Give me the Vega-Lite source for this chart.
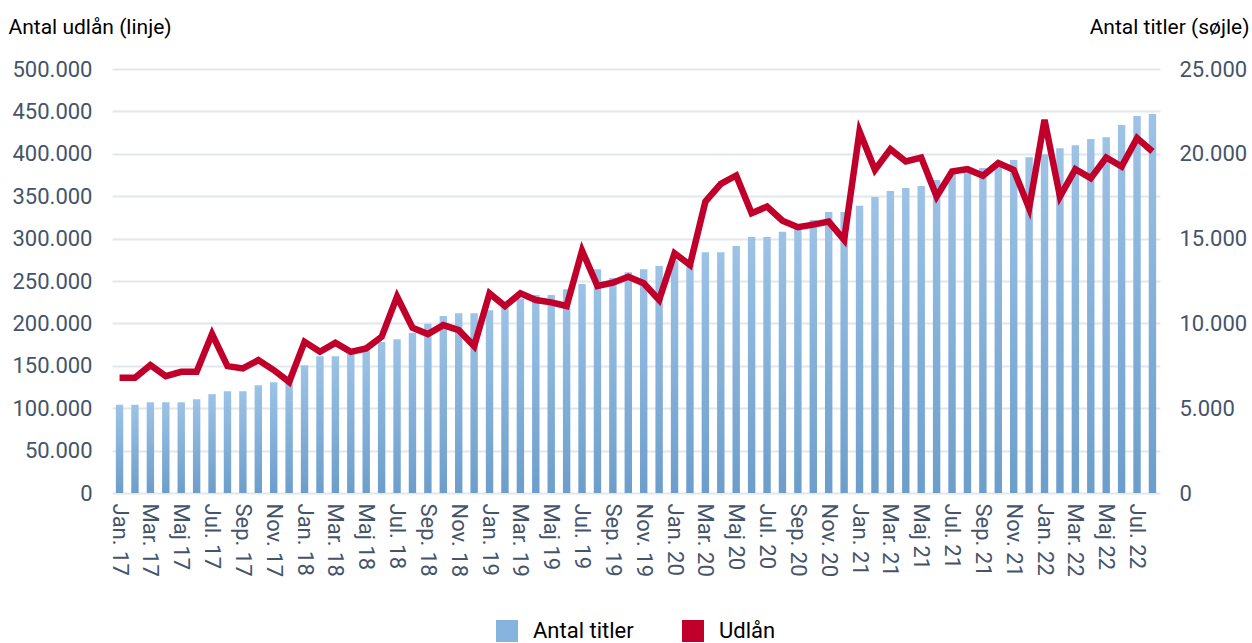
{
  "$schema": "https://vega.github.io/schema/vega-lite/v6.json",
  "width": 1048,
  "height": 424,
  "autosize": "none",
  "padding": {"left": 112, "top": 69, "right": 92, "bottom": 150},
  "background": "white",
  "config": {
    "locale": {"number": {"decimal": ",", "thousands": ".", "grouping": [3], "currency": ["", " kr."]}},
    "font": "Roboto",
    "view": {"stroke": null}
  },
  "data": {"values": [
    {"maaned": "Jan. 17", "titler": 5200, "udlaan": 136000},
    {"maaned": "Feb. 17", "titler": 5200, "udlaan": 136000},
    {"maaned": "Mar. 17", "titler": 5350, "udlaan": 150800},
    {"maaned": "Apr. 17", "titler": 5350, "udlaan": 137800},
    {"maaned": "Maj 17", "titler": 5350, "udlaan": 142900},
    {"maaned": "Jun. 17", "titler": 5530, "udlaan": 142900},
    {"maaned": "Jul. 17", "titler": 5830, "udlaan": 187400},
    {"maaned": "Aug. 17", "titler": 6000, "udlaan": 149600},
    {"maaned": "Sep. 17", "titler": 6000, "udlaan": 146900},
    {"maaned": "Okt. 17", "titler": 6360, "udlaan": 156700},
    {"maaned": "Nov. 17", "titler": 6530, "udlaan": 145000},
    {"maaned": "Dec. 17", "titler": 6700, "udlaan": 131000},
    {"maaned": "Jan. 18", "titler": 7530, "udlaan": 178300},
    {"maaned": "Feb. 18", "titler": 8070, "udlaan": 166500},
    {"maaned": "Mar. 18", "titler": 8070, "udlaan": 177100},
    {"maaned": "Apr. 18", "titler": 8200, "udlaan": 166500},
    {"maaned": "Maj 18", "titler": 8400, "udlaan": 170500},
    {"maaned": "Jun. 18", "titler": 8900, "udlaan": 184200},
    {"maaned": "Jul. 18", "titler": 9070, "udlaan": 231500},
    {"maaned": "Aug. 18", "titler": 9450, "udlaan": 194900},
    {"maaned": "Sep. 18", "titler": 9980, "udlaan": 187400},
    {"maaned": "Okt. 18", "titler": 10430, "udlaan": 198000},
    {"maaned": "Nov. 18", "titler": 10600, "udlaan": 192000},
    {"maaned": "Dec. 18", "titler": 10600, "udlaan": 173200},
    {"maaned": "Jan. 19", "titler": 10780, "udlaan": 235400},
    {"maaned": "Feb. 19", "titler": 10980, "udlaan": 220500},
    {"maaned": "Mar. 19", "titler": 11470, "udlaan": 235400},
    {"maaned": "Apr. 19", "titler": 11670, "udlaan": 227600},
    {"maaned": "Maj 19", "titler": 11670, "udlaan": 224800},
    {"maaned": "Jun. 19", "titler": 12020, "udlaan": 220500},
    {"maaned": "Jul. 19", "titler": 12320, "udlaan": 285800},
    {"maaned": "Aug. 19", "titler": 13200, "udlaan": 244100},
    {"maaned": "Sep. 19", "titler": 12670, "udlaan": 248000},
    {"maaned": "Okt. 19", "titler": 13020, "udlaan": 255100},
    {"maaned": "Nov. 19", "titler": 13200, "udlaan": 247300},
    {"maaned": "Dec. 19", "titler": 13380, "udlaan": 227600},
    {"maaned": "Jan. 20", "titler": 13730, "udlaan": 282700},
    {"maaned": "Feb. 20", "titler": 13500, "udlaan": 268900},
    {"maaned": "Mar. 20", "titler": 14200, "udlaan": 343600},
    {"maaned": "Apr. 20", "titler": 14200, "udlaan": 364500},
    {"maaned": "Maj 20", "titler": 14560, "udlaan": 374400},
    {"maaned": "Jun. 20", "titler": 15100, "udlaan": 329900},
    {"maaned": "Jul. 20", "titler": 15100, "udlaan": 337800},
    {"maaned": "Aug. 20", "titler": 15400, "udlaan": 321200},
    {"maaned": "Sep. 20", "titler": 15600, "udlaan": 313400},
    {"maaned": "Okt. 20", "titler": 16100, "udlaan": 316500},
    {"maaned": "Nov. 20", "titler": 16570, "udlaan": 320000},
    {"maaned": "Dec. 20", "titler": 16570, "udlaan": 298400},
    {"maaned": "Jan. 21", "titler": 16930, "udlaan": 426300},
    {"maaned": "Feb. 21", "titler": 17460, "udlaan": 381100},
    {"maaned": "Mar. 21", "titler": 17800, "udlaan": 405500},
    {"maaned": "Apr. 21", "titler": 17980, "udlaan": 390900},
    {"maaned": "Maj 21", "titler": 18100, "udlaan": 395600},
    {"maaned": "Jun. 21", "titler": 18450, "udlaan": 349600},
    {"maaned": "Jul. 21", "titler": 18950, "udlaan": 379100},
    {"maaned": "Aug. 21", "titler": 19000, "udlaan": 381900},
    {"maaned": "Sep. 21", "titler": 19170, "udlaan": 374000},
    {"maaned": "Okt. 21", "titler": 19280, "udlaan": 389000},
    {"maaned": "Nov. 21", "titler": 19630, "udlaan": 381100},
    {"maaned": "Dec. 21", "titler": 19800, "udlaan": 335800},
    {"maaned": "Jan. 22", "titler": 19980, "udlaan": 440100},
    {"maaned": "Feb. 22", "titler": 20330, "udlaan": 349600},
    {"maaned": "Mar. 22", "titler": 20500, "udlaan": 381900},
    {"maaned": "Apr. 22", "titler": 20870, "udlaan": 371300},
    {"maaned": "Maj 22", "titler": 20980, "udlaan": 395600},
    {"maaned": "Jun. 22", "titler": 21700, "udlaan": 385000},
    {"maaned": "Jul. 22", "titler": 22230, "udlaan": 418500},
    {"maaned": "Aug. 22", "titler": 22340, "udlaan": 402700}
  ]},
  "encoding": {
    "x": {
      "field": "maaned",
      "type": "ordinal",
      "sort": null,
      "scale": {"paddingInner": 0.52, "paddingOuter": 0.25},
      "axis": {
        "title": null,
        "labelAngle": 90,
        "labelAlign": "left",
        "labelBaseline": "middle",
        "labelPadding": 10,
        "labelFontSize": 22,
        "labelColor": "#44546a",
        "labelOverlap": false,
        "ticks": false,
        "domain": false,
        "grid": false,
        "labelExpr": "indexof(['Jan','Mar','Maj','Jul','Sep','Nov'], slice(datum.value, 0, 3)) >= 0 ? datum.value : ''"
      }
    }
  },
  "layer": [
    {
      "mark": {
        "type": "bar",
        "fill": {
          "gradient": "linear",
          "x1": 0, "y1": 0, "x2": 0, "y2": 1,
          "stops": [
            {"offset": 0, "color": "#9dc3e6"},
            {"offset": 1, "color": "#6c9ecb"}
          ]
        }
      },
      "encoding": {
        "y": {
          "field": "titler",
          "type": "quantitative",
          "scale": {"domain": [0, 25000], "nice": false},
          "axis": {
            "orient": "right",
            "values": [0, 5000, 10000, 15000, 20000, 25000],
            "format": ",d",
            "grid": false,
            "ticks": false,
            "domain": false,
            "labelFontSize": 22,
            "labelColor": "#44546a",
            "labelPadding": 19,
            "labelAlign": "left",
            "title": "Antal titler (søjle)",
            "titleAngle": 0,
            "titleX": 89,
            "titleY": -42,
            "titleAlign": "right",
            "titleBaseline": "middle",
            "titleFontSize": 21,
            "titleFontWeight": "normal",
            "titleColor": "#000000"
          }
        }
      }
    },
    {
      "mark": {"type": "line", "strokeWidth": 6.5, "strokeJoin": "miter", "strokeCap": "butt"},
      "encoding": {
        "y": {
          "field": "udlaan",
          "type": "quantitative",
          "scale": {"domain": [0, 500000], "nice": false},
          "axis": {
            "orient": "left",
            "values": [0, 50000, 100000, 150000, 200000, 250000, 300000, 350000, 400000, 450000, 500000],
            "format": ",d",
            "grid": true,
            "gridColor": "#e2e6ed",
            "gridWidth": 2,
            "ticks": false,
            "domain": false,
            "labelFontSize": 22,
            "labelColor": "#44546a",
            "labelPadding": 20,
            "title": "Antal udlån (linje)",
            "titleAngle": 0,
            "titleX": -104,
            "titleY": -42,
            "titleAlign": "left",
            "titleBaseline": "middle",
            "titleFontSize": 21,
            "titleFontWeight": "normal",
            "titleColor": "#000000"
          }
        },
        "color": {
          "datum": "Udlån",
          "type": "nominal",
          "scale": {"domain": ["Antal titler", "Udlån"], "range": ["#86b4de", "#c0002a"]},
          "legend": {
            "title": null,
            "orient": "none",
            "direction": "horizontal",
            "legendX": 384,
            "legendY": 551,
            "symbolType": "square",
            "symbolSize": 484,
            "symbolStrokeWidth": 0,
            "labelFontSize": 22,
            "labelColor": "#000000",
            "labelOffset": 15,
            "columnPadding": 48,
            "encode": {
              "symbols": {"update": {"fill": {"scale": "color", "field": "value"}, "strokeWidth": {"value": 0}}}
            }
          }
        }
      }
    }
  ],
  "resolve": {"scale": {"y": "independent"}}
}
